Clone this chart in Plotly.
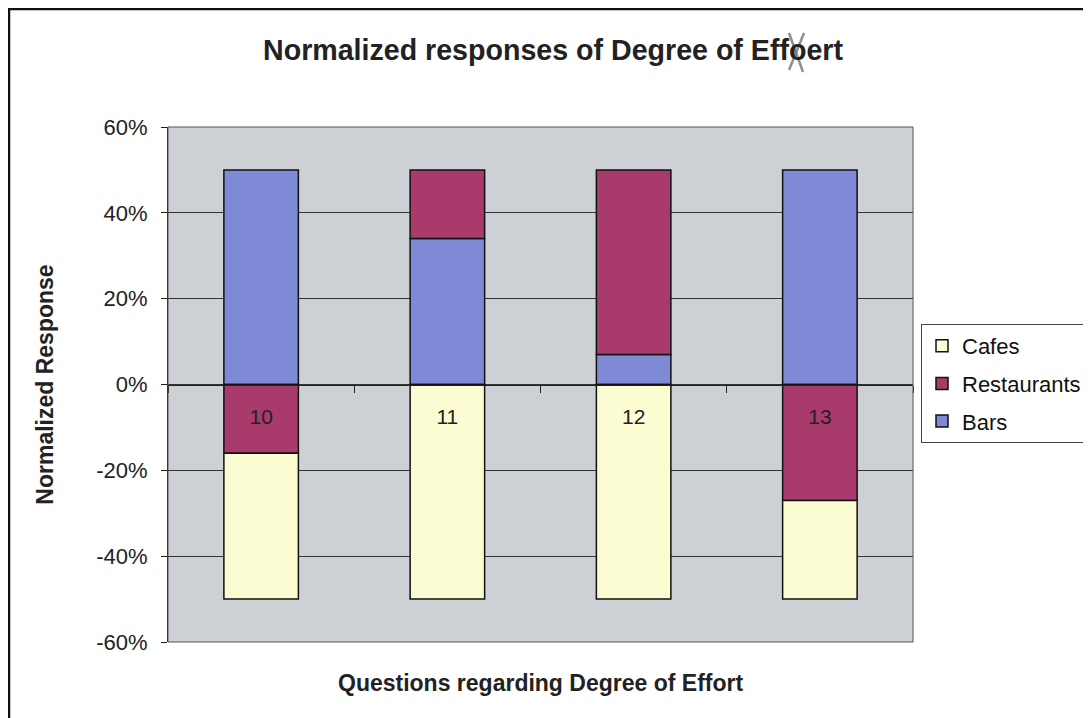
import plotly.graph_objects as go

# Data (normalized responses, fractions)
categories = ["10", "11", "12", "13"]
bars = [0.50, 0.34, 0.07, 0.50]
restaurants = [-0.16, 0.16, 0.43, -0.27]
cafes = [-0.34, -0.50, -0.50, -0.23]
y_ticks = [-0.6, -0.4, -0.2, 0.0, 0.2, 0.4, 0.6]
y_ticktext = ["-60%", "-40%", "-20%", "0%", "20%", "40%", "60%"]

FONT = "Liberation Sans, Arial, sans-serif"
C_BARS = "#7F8AD6"
C_REST = "#A83A6C"
C_CAFE = "#FBFCD2"

W, H = 1091, 718
OFF = 8  # page body margin
# target plot area in page pixels
L, R, T, B = 168 - OFF, 913 - OFF, 127 - OFF, 642 - OFF
pw, ph = R - L, B - T


def px(x):
    return (x - OFF - L) / pw


def py(y):
    return (B - (y - OFF)) / ph


fig = go.Figure()
for name, vals, col, rank in [("Bars", bars, C_BARS, 3),
                              ("Restaurants", restaurants, C_REST, 2),
                              ("Cafes", cafes, C_CAFE, 1)]:
    fig.add_trace(go.Bar(
        x=categories, y=vals, name=name, legendgroup=name, legendrank=rank,
        marker=dict(color=col, line=dict(color="#111", width=1.5)),
        hoverinfo="skip"))

xmark = "rgba(115,115,115,0.8)"

fig.update_layout(
    width=W, height=H,
    margin=dict(l=L, r=W - R, t=T, b=H - B, autoexpand=False),
    paper_bgcolor="white",
    plot_bgcolor="#CDD0D5",
    barmode="relative",
    bargap=0.6,
    font=dict(family=FONT, color="#222"),
    title=dict(text="<b>Normalized responses of Degree of Effoert</b>",
               x=(553 - OFF) / W, xanchor="center",
               y=1 - (50 - OFF) / H, yanchor="middle",
               font=dict(size=28.6, color="#222")),
    legend=dict(x=px(921), xanchor="left", y=py(324), yanchor="top",
                traceorder="grouped", tracegroupgap=6,
                bgcolor="white", bordercolor="#444", borderwidth=1,
                font=dict(size=22, color="#111")),
    xaxis=dict(type="category", anchor="free", position=0.5,
               showline=True, linecolor="#222", linewidth=1,
               ticks="outside", tickson="boundaries", ticklen=7,
               tickcolor="#222", ticklabelstandoff=13,
               tickfont=dict(size=21, color="#222"),
               showgrid=False, zeroline=False),
    yaxis=dict(range=[-0.6, 0.6], tickvals=y_ticks, ticktext=y_ticktext,
               showgrid=True, gridcolor="#333", gridwidth=1,
               zeroline=False, showline=True, linecolor="#222",
               ticks="outside", ticklen=6, tickcolor="#222",
               ticklabelstandoff=9,
               tickfont=dict(size=22, color="#222"),
               title=dict(text="<b>Normalized Response</b>", standoff=36,
                          font=dict(size=23, color="#222"))),
    annotations=[
        dict(text="<b>Questions regarding Degree of Effort</b>",
             xref="paper", yref="paper", x=px(540), y=py(683),
             xanchor="center", yanchor="middle", showarrow=False,
             font=dict(size=23, color="#222")),
    ],
    shapes=[
        dict(type="rect", xref="paper", yref="paper", x0=0, x1=1, y0=0, y1=1,
             line=dict(color="#555", width=1), layer="above",
             fillcolor="rgba(0,0,0,0)"),
        dict(type="rect", xref="paper", yref="paper",
             x0=px(9), x1=px(1120), y0=py(740), y1=py(9),
             line=dict(color="#111", width=2.5), fillcolor="rgba(0,0,0,0)"),
        # hand-drawn correction mark over the title
        dict(type="line", xref="paper", yref="paper",
             x0=px(789), y0=py(33), x1=px(803), y1=py(72),
             line=dict(color=xmark, width=2.5)),
        dict(type="line", xref="paper", yref="paper",
             x0=px(804), y0=py(33), x1=px(789), y1=py(70),
             line=dict(color=xmark, width=2.5)),
    ],
)

fig.write_html("out.html")
